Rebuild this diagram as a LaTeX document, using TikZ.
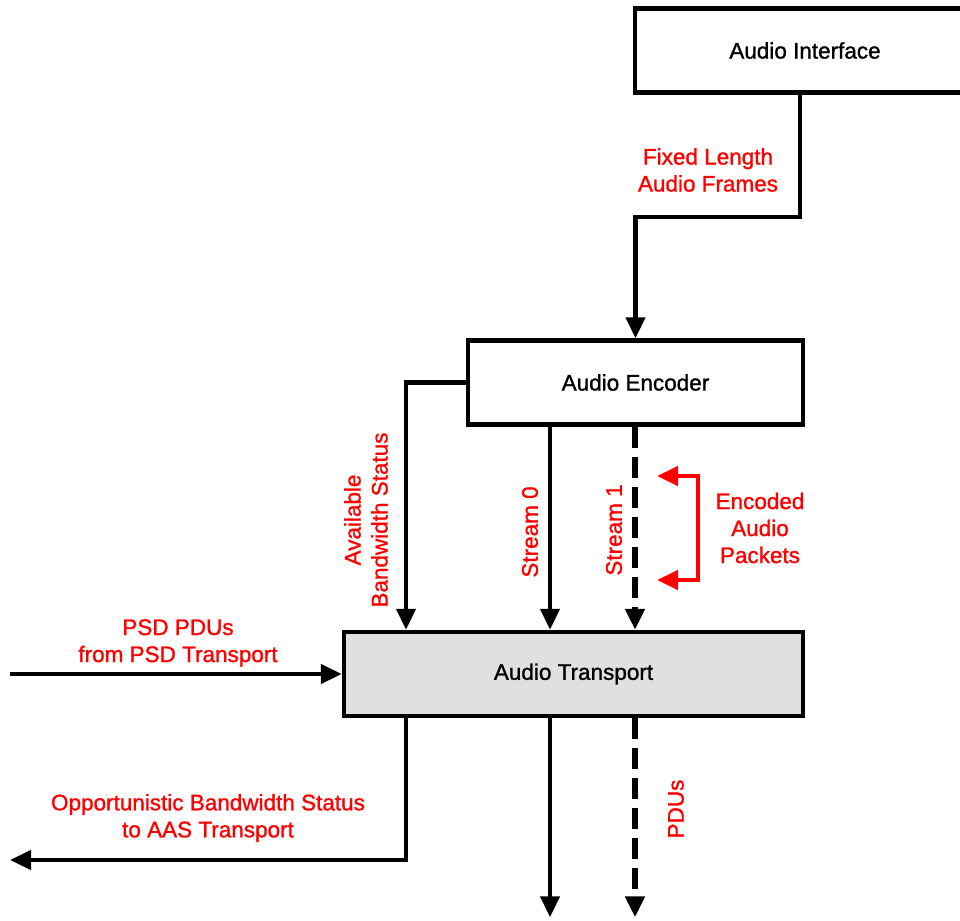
\documentclass[tikz,border=0pt]{standalone}
\usepackage{fontspec}
\setmainfont{Liberation Sans}
\newfontfamily\diagfont{Liberation Sans}[FakeBold=1.2]
\usetikzlibrary{arrows.meta}

\begin{document}
\begin{tikzpicture}[x=1pt,y=-1pt,
		block/.style={draw,line width=4.5pt,minimum width=#1,minimum height=84pt,inner sep=0pt,font=\diagfont\fontsize{22.5}{27}\selectfont},
		lbl/.style={text=red,align=center,inner sep=0pt,font=\diagfont\fontsize{22.5}{27}\selectfont},
		flow/.style={line width=4.5pt,-{Triangle[length=21pt,width=19pt]}},
		dflow/.style={flow,line width=5.5pt,dash pattern=on 21pt off 9pt},
		pkt/.style={red,line width=4.5pt,{Triangle[length=21pt,width=19pt]}-{Triangle[length=21pt,width=19pt]}}]
	\useasboundingbox (0,0) rectangle (960,920);
	% blocks
	\node[block=340pt] (interface) at (805,50.5) {Audio Interface};
	\node[block=335pt] (encoder) at (635.5,382.5) {Audio Encoder};
	\node[block=459pt,fill=black!12] (transport) at (573.5,674) {Audio Transport};
	% x positions of the streams
	\coordinate (bw) at (406,0);
	\coordinate (s0) at (550,0);
	\coordinate (s1) at (635,0);
	\coordinate (psdin) at (10,674);
	\coordinate (obout) at (10,860);
	% connectors
	\draw[flow] ([xshift=-5pt]interface.south) -- ++(0,122) -| (encoder.north);
	\draw[flow] (encoder.west) -| (transport.north -| bw);
	\draw[flow] (encoder.south -| s0) -- (transport.north -| s0);
	\draw[dflow] (encoder.south -| s1) -- (transport.north -| s1);
	\draw[flow] (psdin) -- (transport.west);
	\draw[flow] (transport.south -| bw) |- (obout);
	\draw[flow] (transport.south -| s0) -- ++(0,199);
	\draw[dflow] (transport.south -| s1) -- ++(0,199);
	% packets bracket
	\coordinate (pk1) at (657,476);
	\coordinate (pk2) at (657,580);
	\draw[pkt] (pk1) -- ++(41,0) |- (pk2);
	% labels
	\node[lbl] (framelbl) at (708,170) {Fixed Length\\Audio Frames};
	\node[lbl,rotate=90] (bwlbl) at (366,520) {Available\\Bandwidth Status};
	\node[lbl,rotate=90] (s0lbl) at (530,532) {Stream 0};
	\node[lbl,rotate=90] (s1lbl) at (614,530) {Stream 1};
	\node[lbl] (pktlbl) at (760,528) {Encoded\\Audio\\Packets};
	\node[lbl] (psdlbl) at (178,643) {PSD PDUs\\from PSD Transport};
	\node[lbl] (oblbl) at (208,818) {Opportunistic Bandwidth Status\\to AAS Transport};
	\node[lbl,rotate=90] (pdulbl) at (676,809) {PDUs};
\end{tikzpicture}
\end{document}
